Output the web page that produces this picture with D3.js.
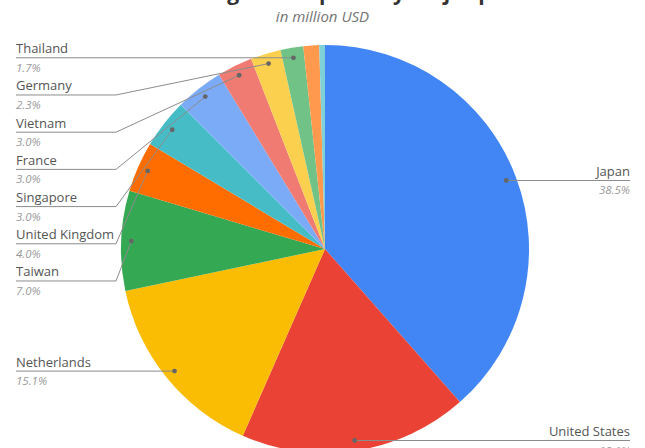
<!DOCTYPE html>
<html>
  <head>
    <meta charset="utf-8">
    <title>Exports by partner</title>
    <script src="https://d3js.org/d3.v7.min.js"></script>
    <style>
      body { margin: 0; background: #fff; }
      svg { display: block; font-family: "Open Sans", sans-serif; }
      .name { fill: #555; font-size: 13px; }
      .share { fill: #999; font-size: 11.5px; font-style: italic; }
      .leader { fill: none; stroke: #8c8c8c; stroke-width: 1; }
      .dot { fill: #666; }
    </style>
  </head>
  <body>
    <svg id="chart" width="645" height="448"></svg>
    <script>
      // data (slice sizes in % of total)
      const countries = ["Japan", "United States", "Netherlands", "Taiwan", "United Kingdom",
        "Singapore", "France", "Vietnam", "Germany", "Thailand", null, null];
      const values = [38.5, 18.1, 15.1, 7.9, 4.0, 3.9, 3.8, 2.8, 2.4, 1.8, 1.25, 0.45];
      const shareLabels = ["38.5%", "18.1%", "15.1%", "7.0%", "4.0%", "3.0%", "3.0%", "3.0%",
        "2.3%", "1.7%", null, null];
      const colours = ["#4285f4", "#ea4335", "#fbbc04", "#34a853", "#ff6d01", "#46bdc6",
        "#7baaf7", "#f07b72", "#fcd04f", "#71c287", "#ff994d", "#7ed1d7"];
      const title = "Merchandise goods exports by major partner";
      const subtitle = "in million USD";

      // layout
      width = 645;
      height = 448;
      cx = 325;
      cy = 249;
      radius = 204;
      svg = d3.select("#chart");

      // titles (main title sits mostly above the frame)
      svg.append("text")
        .attr("x", width / 2)
        .attr("y", 0)
        .attr("text-anchor", "middle")
        .style("font-size", "21px")
        .style("font-weight", 700)
        .style("fill", "#333")
        .text(title);
      svg.append("text")
        .attr("x", width / 2)
        .attr("y", 22)
        .attr("text-anchor", "middle")
        .style("font-size", "15px")
        .style("font-style", "italic")
        .style("fill", "#757575")
        .text(subtitle);

      // pie
      table = countries.map(function(c, i) {
        return { name: c, value: values[i], share: shareLabels[i], colour: colours[i] };
      });
      pie = d3.pie()
        .sort(null)
        .value(function(d) { return d.value; });
      arc = d3.arc()
        .innerRadius(0)
        .outerRadius(radius);
      dotArc = d3.arc()
        .innerRadius(radius * 0.95)
        .outerRadius(radius * 0.95);
      slices = pie(table);
      pieGroup = svg.append("g")
        .attr("transform", "translate(" + cx + "," + cy + ")");
      pieGroup.selectAll(".slice")
          .data(slices)
        .enter().append("path")
          .classed("slice", true)
          .attr("d", arc)
          .style("fill", function(d) { return d.data.colour; });

      // label positions: dot at mid angle, label lines stacked down each side
      labelled = slices.filter(function(d) { return d.data.name; })
        .map(function(d) {
          let p = dotArc.centroid(d);
          return { d: d, x: p[0] + cx, y: p[1] + cy, right: p[0] > 0 };
        });
      let gap = 37.2;
      ["left", "right"].forEach(function(side) {
        let group = labelled.filter(function(l) { return (side == "right") == l.right; })
          .sort(function(a, b) { return a.y - b.y; });
        let last = -Infinity;
        group.forEach(function(l) {
          l.ly = Math.max(l.y, last + gap);
          last = l.ly;
        });
      });

      labels = svg.append("g");
      labelled.forEach(function(l) {
        let textX = l.right ? 630 : 16;
        let elbowX = l.right ? 530 : 116;
        let points = l.ly == l.y ?
          [[textX, l.ly], [l.x, l.y]] :
          [[textX, l.ly], [elbowX, l.ly], [l.x, l.y]];
        labels.append("path")
          .classed("leader", true)
          .attr("d", d3.line()(points));
        labels.append("circle")
          .classed("dot", true)
          .attr("cx", l.x)
          .attr("cy", l.y)
          .attr("r", 2.4);
        labels.append("text")
          .classed("name", true)
          .attr("x", textX)
          .attr("y", l.ly - 4.5)
          .attr("text-anchor", l.right ? "end" : "start")
          .text(l.d.data.name);
        labels.append("text")
          .classed("share", true)
          .attr("x", textX)
          .attr("y", l.ly + 14)
          .attr("text-anchor", l.right ? "end" : "start")
          .text(l.d.data.share);
      });
    </script>
  </body>
</html>
